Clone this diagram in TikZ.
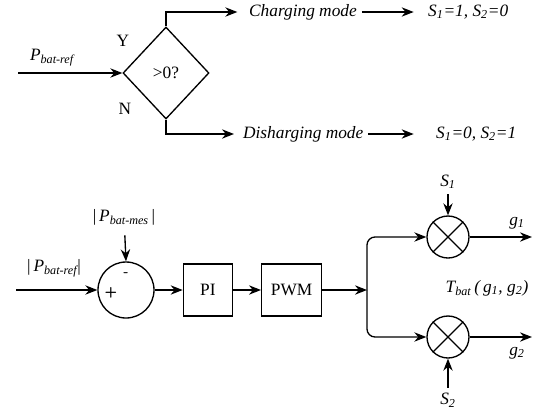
\documentclass[tikz,border=0pt]{standalone}
\usepackage{fontspec}
\setmainfont{Liberation Serif}
\usetikzlibrary{arrows.meta,shapes.geometric,positioning}

\newcommand{\pvar}[2]{\textit{#1\textsubscript{#2}}}

\begin{document}
\begin{tikzpicture}[x=0.75pt,y=-0.75pt,->,>={Stealth[length=9pt,width=7pt]},line width=1pt,
  font=\fontsize{13}{15}\selectfont,
  test node/.style={diamond,draw,minimum width=64.5pt,minimum height=69pt,inner sep=0pt},
  sum node/.style={circle,draw,minimum size=42pt,inner sep=0pt},
  mult node/.style={circle,draw,minimum size=31.5pt,inner sep=0pt},
  box node/.style={rectangle,draw,minimum height=39pt,inner sep=2pt},
  sign/.style={font=\sffamily\bfseries\fontsize{11}{11}\selectfont,inner sep=0pt}]

  \useasboundingbox (0,0) rectangle (554,412);

  % mode selection
  \node[test node] (D) at (166,73) {>0?};
  \coordinate (in1) at (18,73);
  \node (Pref) at (52,58) {\pvar{P}{bat-ref}};
  \node (Y) at (123,41) {Y};
  \node (N) at (125,109) {N};
  \node[anchor=west] (chg) at (244,12) {\textit{Charging mode}};
  \node[anchor=west] (dis) at (238,134) {\textit{Disharging mode}};
  \node[anchor=west] (on) at (423,12) {\textit{S\textsubscript{1}=1, S\textsubscript{2}=0}};
  \node[anchor=west] (off) at (431,134) {\textit{S\textsubscript{1}=0, S\textsubscript{2}=1}};

  \draw (in1) -- (D.west);
  \draw[shorten >=5pt] (D.north) |- (chg.west);
  \draw[shorten >=3pt] (D.south) |- (dis.west);
  \draw[shorten >=7pt] (chg.east) -- (on.west);
  \draw[shorten >=13pt] (dis.east) -- (off.west);

  % control loop
  \node[sum node] (E) at (126,290) {};
  \node[sign] (minus) at (126,275) {-};
  \node[sign] (plus) at (111,293) {+};
  \node (Pref2) at (54,268) {|\,\pvar{P}{bat-ref}|};
  \node (Pmes) at (124,217) {|\,\pvar{P}{bat-mes}\,|};
  \coordinate (in2) at (16,290);
  \node[box node,minimum width=36.75pt,right=21pt of E] (PI) {PI};
  \node[box node,minimum width=45pt,right=21pt of PI] (PWM) {PWM};
  \coordinate (split) at (367,290);
  \node[mult node] (M1) at (448,237) {};
  \node[mult node] (M2) at (448,337) {};
  \node (S1) at (448,182) {\textit{S\textsubscript{1}}};
  \node (S2) at (448,400) {\textit{S\textsubscript{2}}};
  \node (g1) at (517,223) {\textit{g\textsubscript{1}}};
  \node (g2) at (517,353) {\textit{g\textsubscript{2}}};
  \coordinate (out1) at (532,237);
  \coordinate (out2) at (532,337);
  \node (T) at (487,288) {\textit{T\textsubscript{bat}\,(\,g\textsubscript{1}, g\textsubscript{2})}};

  \draw (in2) -- (E.west);
  \draw[shorten <=4pt] (Pmes) -- (E.north);
  \draw (E) -- (PI);
  \draw (PI) -- (PWM);
  \draw (PWM) -- (split);
  \draw[rounded corners=6pt] (split) |- (M1.west);
  \draw[rounded corners=6pt] (split) |- (M2.west);
  \draw (S1) -- (M1.north);
  \draw (S2) -- (M2.south);
  \draw (M1.east) -- (out1);
  \draw (M2.east) -- (out2);
  \draw[-] (M1.north west) -- (M1.south east) (M1.north east) -- (M1.south west);
  \draw[-] (M2.north west) -- (M2.south east) (M2.north east) -- (M2.south west);
\end{tikzpicture}
\end{document}
